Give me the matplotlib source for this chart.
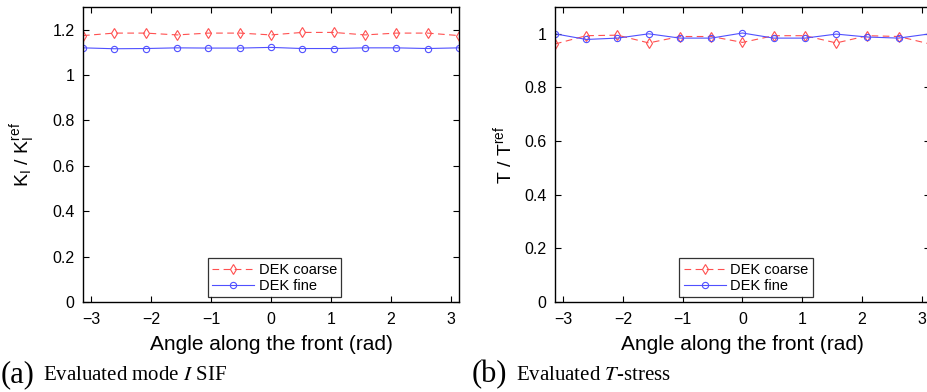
import numpy as np
import matplotlib
matplotlib.use("Agg")
import matplotlib.pyplot as plt

plt.rcParams['font.family'] = ['Liberation Sans', 'DejaVu Sans']
plt.rcParams['mathtext.fontset'] = 'custom'
plt.rcParams['mathtext.rm'] = 'Liberation Sans'
plt.rcParams['mathtext.it'] = 'Liberation Sans'

angles = np.linspace(-np.pi, np.pi, 13)

ki_coarse = [1.174, 1.185, 1.185, 1.177, 1.185, 1.185, 1.177, 1.188, 1.188, 1.177, 1.185, 1.185, 1.174]
ki_fine = [1.120, 1.116, 1.117, 1.120, 1.119, 1.119, 1.122, 1.117, 1.117, 1.120, 1.120, 1.117, 1.120]

t_coarse = [0.962, 0.993, 0.995, 0.966, 0.990, 0.990, 0.968, 0.993, 0.993, 0.966, 0.993, 0.990, 0.962]
t_fine = [1.000, 0.979, 0.984, 1.000, 0.984, 0.984, 1.003, 0.984, 0.984, 0.999, 0.988, 0.984, 1.000]

xticks = [-3, -2, -1, 0, 1, 2, 3]
ki_yticks = [0, 0.2, 0.4, 0.6, 0.8, 1.0, 1.2]
ki_yticklabels = ['0', '0.2', '0.4', '0.6', '0.8', '1', '1.2']
t_yticks = [0, 0.2, 0.4, 0.6, 0.8, 1.0]
t_yticklabels = ['0', '0.2', '0.4', '0.6', '0.8', '1']

W, H = 928, 392
fig = plt.figure(figsize=(W / 100, H / 100), dpi=100)

red = '#ff5050'
blue = '#5050ff'

def make_axes(x0, x1, y0, y1):
    return fig.add_axes([x0 / W, 1 - y1 / H, (x1 - x0) / W, (y1 - y0) / H])

def style(ax, ylim, yticks, yticklabels, ylabel, legend_pos, ylabel_x):
    ax.set_xlim(-np.pi, np.pi)
    ax.set_ylim(*ylim)
    ax.set_xticks(xticks)
    ax.set_xticklabels([str(t).replace('-', '\u2212') for t in xticks])
    ax.set_yticks(yticks)
    ax.set_yticklabels(yticklabels)
    ax.tick_params(direction='in', top=True, right=True, labelsize=11.5,
                   length=4, width=0.8, colors='black')
    ax.tick_params(axis='x', pad=7)
    ax.tick_params(axis='y', pad=6)
    for s in ax.spines.values():
        s.set_linewidth(1.0)
    ax.set_xlabel('Angle along the front (rad)', fontsize=15, va='center')
    ax.xaxis.set_label_coords(0.5, -43 / 295)
    ax.set_ylabel(ylabel, fontsize=14, va='center')
    ax.yaxis.set_label_coords(ylabel_x, 0.5)
    leg = ax.legend(loc='lower left', bbox_to_anchor=legend_pos, fontsize=10.5,
                    frameon=True, fancybox=False, edgecolor='black',
                    borderpad=0.3, handlelength=2.9, handletextpad=0.3,
                    labelspacing=0.15, borderaxespad=0)
    leg.get_frame().set_linewidth(0.9)

def draw(ax, coarse, fine):
    ax.plot(angles, coarse, linestyle=(0, (6, 4)), color=red, lw=0.8, marker='d',
            markersize=5, markerfacecolor='none', markeredgecolor=red, markeredgewidth=0.8,
            label='DEK coarse')
    ax.plot(angles, fine, linestyle='-', color=blue, lw=0.8, marker='o',
            markersize=4.5, markerfacecolor='none', markeredgecolor=blue, markeredgewidth=0.8,
            label='DEK fine')

# Left panel
ax1 = make_axes(83, 459, 7, 302)
draw(ax1, ki_coarse, ki_fine)
style(ax1, (0, 1.3), ki_yticks, ki_yticklabels,
      r'$\mathregular{K_I\ /\ K_I^{ref}}$', ((207.7 - 83) / 376, (302 - 297.3) / 295),
      (23 - 83) / 376)

# Right panel
ax2 = make_axes(555, 930, 7, 302)
draw(ax2, t_coarse, t_fine)
style(ax2, (0, 1.1), t_yticks, t_yticklabels,
      r'$\mathregular{T\ /\ T^{ref}}$', ((679.3 - 555) / 375, (302 - 297.3) / 295),
      (503 - 555) / 375)

# Captions
cy = 1 - 375 / H
fig.text(1 / W, cy, '(a)', family='Liberation Serif', fontsize=22, va='center', ha='left')
fig.text(43 / W, cy, r'Evaluated mode $\mathit{I}$ SIF', family='Liberation Serif',
         fontsize=15, va='center', ha='left', math_fontfamily='stix')
fig.text(472 / W, cy, '(b)', family='Liberation Serif', fontsize=22, va='center', ha='left')
fig.text(516 / W, cy, r'Evaluated $\mathit{T}$-stress', family='Liberation Serif',
         fontsize=15, va='center', ha='left', math_fontfamily='stix')

fig.savefig('out.png', dpi=100)
